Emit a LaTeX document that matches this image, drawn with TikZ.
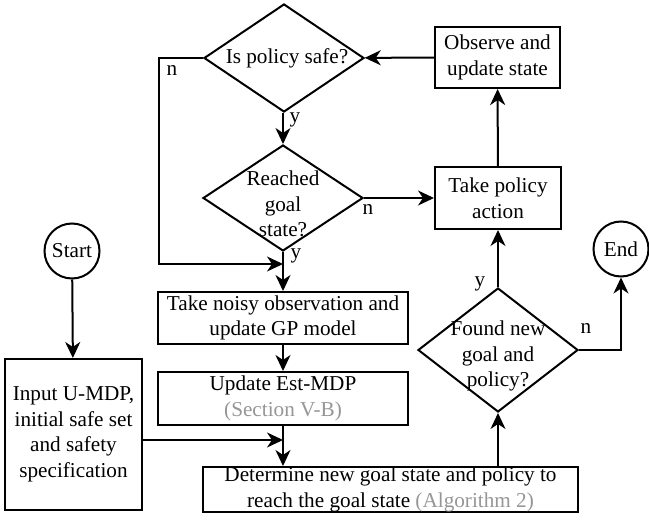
\documentclass[tikz,border=0pt]{standalone}
\usepackage{fontspec}
\setmainfont{Liberation Serif}
\usetikzlibrary{shapes.geometric,arrows.meta}
\definecolor{refgris}{RGB}{150,150,150}
\begin{document}
\begin{tikzpicture}[
    x=1pt,
    y=-1pt,
    >={Stealth[length=16pt,width=15pt,inset=5pt]},
    font=\fontsize{21.2}{25.5}\selectfont,
    line width=2pt,
    caja/.style={
        draw,
        align=center,
        inner sep=0pt
    },
    rombo/.style={
        draw,
        diamond,
        inner sep=0pt,
        minimum width=160pt
    },
    circulo/.style={
        draw,
        circle,
        minimum size=55pt,
        inner sep=0pt
    },
    texto/.style={
        align=center,
        inner sep=0pt
    },
    etiqueta/.style={
        inner sep=0pt
    }
]
    \useasboundingbox (0,0) rectangle (649,525);

    \node[circulo] (inicio) at (72,251) {Start};
    \node[circulo] (fin) at (621,249) {End};

    \node[caja, minimum width=137pt, minimum height=151pt] (entrada) at (73.5,434.5)
        {Input U-MDP,\\initial safe set\\and safety\\specification};

    \node[rombo, minimum height=108pt] (segura) at (284,58) {};
    \node[texto] (segura-txt) at (287,58) {Is policy safe?};
    \node[caja, minimum width=125pt, minimum height=61pt] (observar) at (497.5,57.5)
        {Observe and\\update state};

    \node[rombo, minimum height=106pt] (meta) at (283,198) {};
    \node[texto] (meta-txt) at (283,204) {Reached\\goal\\state?};
    \node[caja, minimum width=126pt, minimum height=62pt] (accion) at (498,198)
        {Take policy\\action};

    \node[caja, minimum width=250pt, minimum height=52pt] (ruidosa) at (283,318)
        {Take noisy observation and\\update GP model};
    \node[caja, minimum width=250pt, minimum height=53pt] (est-mdp) at (283,398.5)
        {Update Est-MDP\\\textcolor{refgris}{(Section V-B)}};

    \node[caja, minimum width=375pt, minimum height=45pt] (nueva) at (390.5,489.5)
        {Determine new goal state and policy to\\
         reach the goal state \textcolor{refgris}{(Algorithm 2)}};

    \node[rombo, minimum height=124pt] (hallada) at (498,350) {};
    \node[texto] (hallada-txt) at (498,356) {Found new\\goal and\\policy?};

    \coordinate (rodeo) at (159,58);
    \coordinate (union) at (283,264);
    \coordinate (cruce) at (283,440);

    \draw[->] (inicio) -- (entrada);
    \draw[->] (observar) -- (segura);
    \draw[->] (segura.south -| meta.north) -- (meta);
    \draw[->] (segura.west) -- (rodeo) |- (union);
    \draw[->] (meta) -- (accion);
    \draw[->] (meta.south) -- (ruidosa.north);
    \draw[->] (ruidosa.south) -- (est-mdp.north);
    \draw[->] (est-mdp.south) -- (nueva.north -| est-mdp.south);
    \draw[->] (entrada.east |- cruce) -- (cruce);
    \draw[->] (nueva.north -| hallada.south) -- (hallada.south);
    \draw[->] (hallada) -- (accion);
    \draw[->] (accion) -- (observar);
    \draw[->] (hallada.east) -| (fin.south);

    \node[etiqueta] (n-segura) at (172,71) {n};
    \node[etiqueta] (y-segura) at (295,120) {y};
    \node[etiqueta] (n-meta) at (368,210) {n};
    \node[etiqueta] (y-meta) at (296,256) {y};
    \node[etiqueta] (y-hallada) at (480,284) {y};
    \node[etiqueta] (n-hallada) at (586,329) {n};
\end{tikzpicture}
\end{document}
